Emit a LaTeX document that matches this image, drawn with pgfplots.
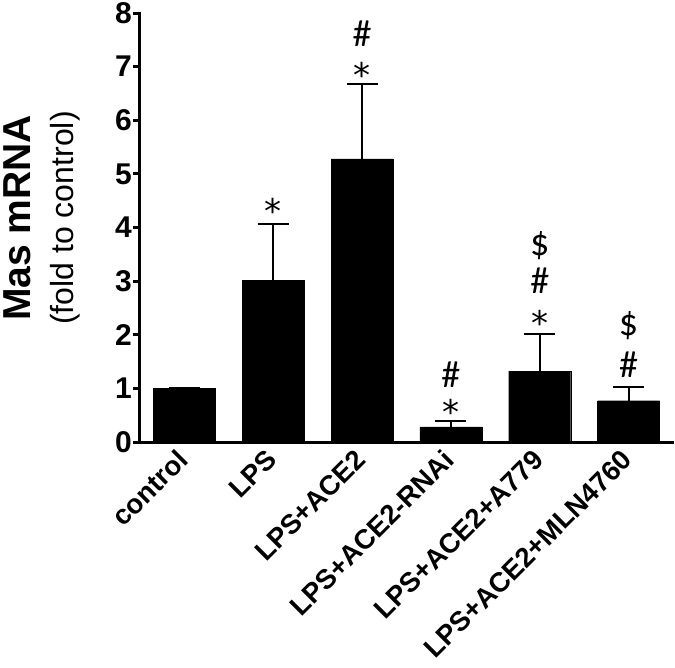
\documentclass[border=0pt]{standalone}
\usepackage{pgfplots}
\pgfplotsset{compat=1.18}
\usepackage{fontspec}
\setmainfont{Liberation Sans}
\newfontfamily\symfont{Carlito}
\newfontfamily\astfont{DejaVu Sans}
\begin{document}
\begin{tikzpicture}
\begin{axis}[
  at={(0,0)}, anchor=south west,
  scale only axis, width=533pt, height=429pt,
  xmin=-0.5, xmax=5.5, ymin=0, ymax=8,
  axis x line*=bottom, axis y line*=left,
  axis line style={line width=3pt, line cap=rect},
  clip=false,
  ytick={0,1,...,8},
  xtick={0,1,2,3,4,5},
  xticklabels={control,LPS,LPS+ACE2,LPS+ACE2-RNAi,LPS+ACE2+A779,LPS+ACE2+MLN4760},
  x tick label style={rotate=45, anchor=east, font=\fontsize{27.5}{33}\selectfont\bfseries, inner sep=2pt},
  xticklabel shift=4.5pt,
  y tick label style={font=\fontsize{30}{36}\selectfont\bfseries, inner sep=1pt},
  /pgf/number format/assume math mode=true,
  tick align=outside,
  major tick length=7pt,
  ytick style={line width=3pt, black},
  xtick style={draw=none},
]
\addplot[ybar, bar width=62pt, fill=black, draw=black,
  error bars/.cd, y dir=plus, y explicit,
  error bar style={line width=2pt, black},
  error mark options={rotate=90, line width=2pt, mark size=15.5pt, black}]
  table[x=x, y=y, y error=e] {
x y e
0 1.00 0
1 3.02 1.05
2 5.28 1.40
3 0.28 0.11
4 1.32 0.69
5 0.77 0.26
};
\begin{scope}[every node/.style={anchor=base, font=\fontsize{38}{44}\selectfont\symfont, inner sep=0pt},
  ast/.style={font=\fontsize{34}{40}\selectfont\astfont}]
\node[ast] at (axis cs:1,4.07) {*};
\node at (axis cs:2,7.37) {\#};
\node[ast] at (axis cs:2,6.62) {*};
\node at (axis cs:3,1.02) {\#};
\node[ast] at (axis cs:3,0.33) {*};
\node at (axis cs:4,3.48) {\$};
\node at (axis cs:4,2.76) {\#};
\node[ast] at (axis cs:4,1.99) {*};
\node at (axis cs:5,1.99) {\$};
\node at (axis cs:5,1.20) {\#};
\end{scope}
\end{axis}
\node[rotate=90, font=\fontsize{39}{44}\selectfont\bfseries] at (-123pt,224pt) {Mas mRNA};
\node[rotate=90, font=\fontsize{32}{38}\selectfont] at (-75pt,224pt) {(fold to control)};
\pgfresetboundingbox
\path[use as bounding box] (-140pt,-225pt) rectangle (535pt,442pt);
\end{tikzpicture}
\end{document}
